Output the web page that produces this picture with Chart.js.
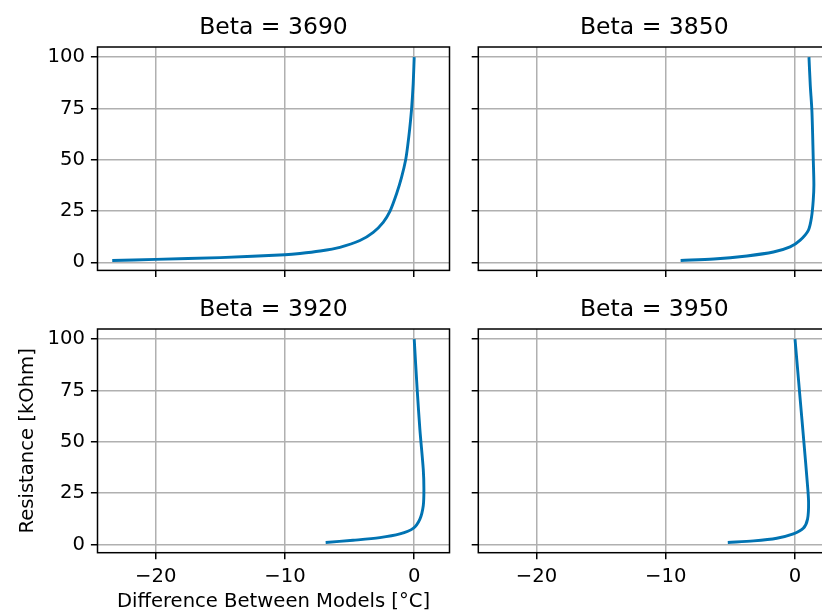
<!DOCTYPE html>
<html>
<head>
<meta charset="utf-8">
<script src="https://cdn.jsdelivr.net/npm/chart.js@4/dist/chart.umd.min.js"></script>
<style>
    html, body { margin: 0; padding: 0; background: #fff; overflow: hidden; }
    #fig { position: relative; width: 822px; height: 614px; overflow: hidden; }
    #fig canvas { position: absolute; left: 0; top: 0; width: 840px; height: 614px; }
</style>
</head>
<body>
<div id="fig">
    <canvas id="c0" width="840" height="614"></canvas>
    <canvas id="c1" width="840" height="614"></canvas>
    <canvas id="c2" width="840" height="614"></canvas>
    <canvas id="c3" width="840" height="614"></canvas>
</div>
<script>
// ── Data ──────────────────────────────────────────────────────
const BETAS = [3690, 3850, 3920, 3950];

const DIFF_3690 = [-23.36, -20, -15, -10, -8.84, -7.29, -5.75, -4.2, -3.17, -2.4, -1.88, -1.37, -0.98, -0.66, -0.5, -0.35, -0.2, -0.08, 0];
const RES_3690  = [0.9, 1.4, 2.3, 3.7, 4.3, 5.5, 7.3, 10.6, 14.6, 19.5, 24.8, 33.3, 41.4, 50, 57, 65, 75, 87, 100];

const DIFF_3850 = [-8.85, -6.28, -3.72, -1.67, -0.38, 0.38, 1.03, 1.28, 1.41, 1.46, 1.41, 1.31, 1.18, 1.08];
const RES_3850  = [0.9, 1.6, 3.1, 5.0, 7.5, 10.7, 15.6, 22.1, 30.2, 37.7, 50.6, 73.4, 86.4, 100];

const DIFF_3920 = [-6.85, -4.73, -2.66, -1.11, -0.08, 0.44, 0.70, 0.75, 0.70, 0.44, 0.23, 0];
const RES_3920  = [1.0, 2.1, 3.4, 5.2, 7.9, 12.4, 18.9, 27, 36.7, 56, 75.4, 100];

const DIFF_3950 = [-5.2, -3.2, -1.41, -0.13, 0.64, 0.97, 1.05, 0.95, 0.69, 0.38, 0];
const RES_3950  = [1.0, 1.8, 3.1, 5.2, 7.9, 12.4, 20.5, 30.2, 49.6, 72.2, 100];

const X_TICKS = [-20, -10, 0];
const Y_TICKS = [0, 25, 50, 75, 100];
const X_MIN = -24.5, X_MAX = 2.73;
const Y_MIN = -3.95, Y_MAX = 104.95;

const X_TITLE = 'Difference Between Models [°C]';
const Y_TITLE = 'Resistance [kOhm]';

// ── Style ─────────────────────────────────────────────────────
const FONT  = 'DejaVu Sans';
const LINE  = '#0173b2';
const GRID  = '#b0b0b0';
const INK   = '#000';
const CW = 840, CH = 614;
const TICK_LEN = 6.6;
const LABEL_PX = 19.6;
const TITLE_PX = 23.5;
const TITLE_H = 47;   // title block height (font + padding)

// plot-area edges of each panel, in px
const PANELS = [
    { id: 'c0', diff: DIFF_3690, res: RES_3690, left: 97.5,  right: 449.5, top: 47,  bottom: 270.4, xLab: false, yLab: true  },
    { id: 'c1', diff: DIFF_3850, res: RES_3850, left: 478.3, right: 830.3, top: 47,  bottom: 270.4, xLab: false, yLab: false },
    { id: 'c2', diff: DIFF_3920, res: RES_3920, left: 97.5,  right: 449.5, top: 329, bottom: 552.7, xLab: true,  yLab: true  },
    { id: 'c3', diff: DIFF_3950, res: RES_3950, left: 478.3, right: 830.3, top: 329, bottom: 552.7, xLab: true,  yLab: false },
];

const fmtTick = v => v < 0 ? '\u2212' + Math.abs(v) : String(v);

// axes frame on all four sides, drawn over the line like matplotlib spines
const framePlugin = {
    id: 'frame',
    afterDraw(chart) {
        const { ctx, chartArea: a } = chart;
        ctx.save();
        ctx.strokeStyle = INK;
        ctx.lineWidth = 1.5;
        ctx.strokeRect(a.left, a.top, a.right - a.left, a.bottom - a.top);
        ctx.restore();
    },
};

function makePanel(p, i) {
    const yW = p.yLab ? p.left : 20;
    const xH = p.xLab ? CH - p.bottom : 20;
    const showTitles = p.xLab && p.yLab;

    return new Chart(document.getElementById(p.id), {
        type: 'scatter',
        data: {
            datasets: [{
                data: p.diff.map((d, k) => ({ x: d, y: p.res[k] })),
                showLine: true,
                borderColor: LINE,
                borderWidth: 2.9,
                pointRadius: 0,
                tension: 0.3,
            }],
        },
        options: {
            responsive: false, animation: false, events: [],
            layout: { padding: { left: p.left - yW, right: CW - p.right, top: p.top - TITLE_H, bottom: CH - p.bottom - xH } },
            plugins: {
                legend: { display: false },
                tooltip: { enabled: false },
                title: {
                    display: true, fullSize: false, text: 'Beta = ' + BETAS[i], color: INK,
                    font: { family: FONT, size: TITLE_PX, weight: 'normal', lineHeight: 1.2 },
                    padding: { top: 14, bottom: 4.8 },
                },
            },
            scales: {
                x: {
                    type: 'linear', min: X_MIN, max: X_MAX,
                    afterBuildTicks: s => { s.ticks = X_TICKS.map(v => ({ value: v })); },
                    afterFit: s => { s.height = xH; },
                    border: { display: false },
                    grid: { color: GRID, lineWidth: 1.5, tickColor: INK, tickWidth: 1.5, tickLength: TICK_LEN },
                    ticks: { display: p.xLab, color: INK, padding: 6, maxRotation: 0, font: { family: FONT, size: LABEL_PX }, callback: fmtTick },
                    title: { display: showTitles, text: X_TITLE, color: INK, font: { family: FONT, size: LABEL_PX, lineHeight: 1.2 }, padding: { top: 0, bottom: 0 } },
                },
                y: {
                    type: 'linear', min: Y_MIN, max: Y_MAX,
                    afterBuildTicks: s => { s.ticks = Y_TICKS.map(v => ({ value: v })); },
                    afterFit: s => { s.width = yW; },
                    border: { display: false },
                    grid: { color: GRID, lineWidth: 1.5, tickColor: INK, tickWidth: 1.5, tickLength: TICK_LEN },
                    ticks: { display: p.yLab, color: INK, padding: 6, font: { family: FONT, size: LABEL_PX }, callback: fmtTick },
                    title: { display: showTitles, text: Y_TITLE, color: INK, font: { family: FONT, size: LABEL_PX, lineHeight: 1.2 }, padding: { top: 16.3, bottom: 0 } },
                },
            },
        },
        plugins: [framePlugin],
    });
}

PANELS.forEach(makePanel);
</script>
</body>
</html>
